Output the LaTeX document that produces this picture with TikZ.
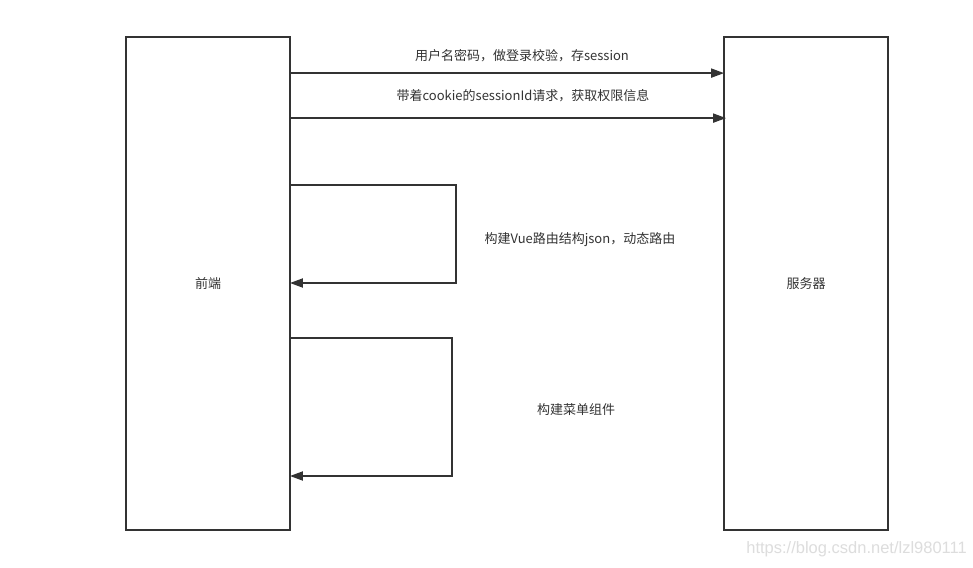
\documentclass[tikz,border=0pt]{standalone}
\usepackage{fontspec}
\setmainfont{Noto Sans CJK SC}
\newfontfamily\wmfont{Liberation Sans}
\usetikzlibrary{arrows.meta}
\definecolor{ln}{HTML}{333333}
\definecolor{wm}{HTML}{DDDDDD}
\tikzset{
  actor/.style={draw=ln, line width=1.8pt, minimum width=164pt, minimum height=493pt, inner sep=0pt, fill=white, font=\fontsize{13pt}{15pt}\selectfont, text=ln},
  msg/.style={draw=ln, line width=1.8pt, -{Triangle[length=13pt,width=9pt]}},
  lbl/.style={font=\fontsize{13pt}{15pt}\selectfont, text=ln, inner sep=0pt},
}
\begin{document}
\begin{tikzpicture}[x=1pt,y=-1pt]
\useasboundingbox (0,0) rectangle (973,567);
\fill[white] (0,0) rectangle (973,567);
\node[actor] (fe) at (208,283.5) {前端};
\node[actor] (be) at (806,283.5) {服务器};
% messages
\draw[msg] ([yshift=-37pt]fe.north east) -- ([yshift=-37pt,xshift=1pt]be.north west);
\node[lbl] (t1) at (522,56) {用户名密码，做登录校验，存session};
\draw[msg] ([yshift=-82pt]fe.north east) -- ([yshift=-82pt,xshift=3pt]be.north west);
\node[lbl] (t2) at (523,96) {带着cookie的sessionId请求，获取权限信息};
% self loops
\coordinate (l1a) at ([yshift=-149pt]fe.north east);
\coordinate (l1b) at (456,283);
\draw[msg] (l1a) -| (l1b) -- ([xshift=-1pt]fe.east |- l1b);
\node[lbl] (t3) at (580,240) {构建Vue路由结构json，动态路由};
\coordinate (l2a) at ([yshift=-302pt]fe.north east);
\coordinate (l2b) at (452,476);
\draw[msg] (l2a) -| (l2b) -- ([xshift=-1pt]fe.east |- l2b);
\node[lbl] (t4) at (576,410) {构建菜单组件};
% watermark
\node[text=wm, font=\wmfont\fontsize{16.5pt}{18pt}\selectfont, anchor=east, inner sep=0pt] (wmk) at (967,549) {https://blog.csdn.net/lzl980111};
\end{tikzpicture}
\end{document}
